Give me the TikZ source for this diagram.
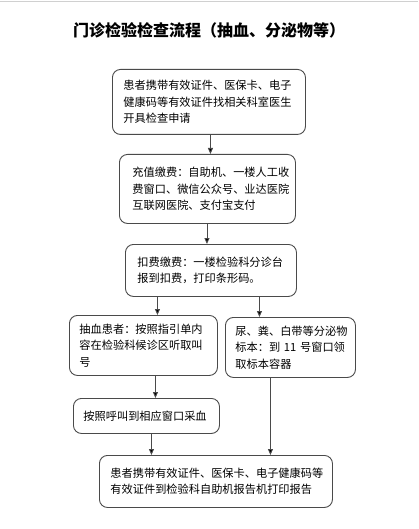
\documentclass[tikz,border=0pt]{standalone}
\usepackage{fontspec}
\setmainfont{Noto Sans CJK SC}
\usetikzlibrary{arrows.meta}
\definecolor{edge}{HTML}{4A4A4A}
\definecolor{topline}{HTML}{D0D0D0}
\tikzset{
  flowbox/.style={draw=edge, line width=0.9pt, rounded corners=8pt, inner ysep=0pt,
    align=left, font=\fontsize{11.2}{16.5}\selectfont, anchor=north west},
  arr/.style={draw=edge, line width=0.9pt, -{Triangle[length=6pt,width=5pt,fill=black]}}
}
\begin{document}
\begin{tikzpicture}[x=1pt,y=-1pt]
\useasboundingbox (0,0) rectangle (418,529);
\fill[white] (0,0) rectangle (418,529);
\draw[topline, line width=1pt] (0,2) -- (418,2);

\node[font=\fontsize{16}{18}\selectfont\bfseries] (title) at (209,30) {门诊检验检查流程（抽血、分泌物等）};

\node[flowbox, inner xsep=11pt, text width=171pt, minimum height=65pt] (b1) at (112,69)
  {\mbox{患者携带有效证件、医保卡、电子}\\\mbox{健康码等有效证件找相关科室医生}\\\mbox{开具检查申请}};
\node[flowbox, inner xsep=13pt, text width=150pt, minimum height=69pt] (b2) at (119,154)
  {\mbox{充值缴费：自助机、一楼人工收}\\\mbox{费窗口、微信公众号、业达医院}\\\mbox{互联网医院、支付宝支付}};
\node[flowbox, inner xsep=12pt, text width=147pt, minimum height=52pt] (b3) at (125,244)
  {\mbox{扣费缴费：一楼检验科分诊台}\\\mbox{报到扣费，打印条形码。}};
\node[flowbox, inner xsep=10pt, text width=128pt, minimum height=60pt] (b4) at (69,315)
  {\mbox{抽血患者：按照指引单内}\\\mbox{容在检验科候诊区听取叫}\\\mbox{号}};
\node[flowbox, inner xsep=10pt, text width=110pt, minimum height=60pt] (b5) at (225,317)
  {\mbox{尿、粪、白带等分泌物}\\\mbox{标本：到 11 号窗口领}\\\mbox{取标本容器}};
\node[flowbox, inner xsep=10pt, text width=126pt, minimum height=35pt] (b6) at (73,398)
  {\mbox{按照呼叫到相应窗口采血}};
\node[flowbox, inner xsep=11pt, text width=211pt, minimum height=52pt] (b7) at (99,455)
  {\mbox{患者携带有效证件、医保卡、电子健康码等}\\\mbox{有效证件到检验科自助机报告机打印报告}};

\draw[arr] ([xshift=1.5pt]b1.south) -- ([xshift=1.5pt]b1.south |- b2.north);
\draw[arr] ([xshift=-0.5pt]b2.south) -- ([xshift=-0.5pt]b2.south |- b3.north);
\draw[arr] ([xshift=-53.5pt]b3.south) -- ([xshift=-53.5pt]b3.south |- b4.north);
\draw[arr] ([xshift=48.5pt]b3.south) -- ([xshift=48.5pt]b3.south |- b5.north);
\draw[arr] ([xshift=12pt]b4.south) -- ([xshift=12pt]b4.south |- b6.north);
\draw[arr] ([xshift=5pt]b6.south) -- ([xshift=5pt]b6.south |- b7.north);
\draw[arr] ([xshift=-20pt]b5.south) -- ([xshift=-20pt]b5.south |- b7.north);
\end{tikzpicture}
\end{document}
